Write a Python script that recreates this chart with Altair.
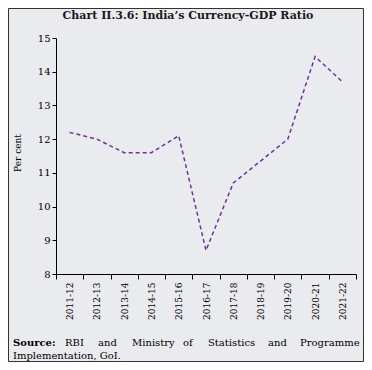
import json
import altair as alt
import pandas as pd

years = ["2011-12", "2012-13", "2013-14", "2014-15", "2015-16", "2016-17",
         "2017-18", "2018-19", "2019-20", "2020-21", "2021-22"]
ratio = [12.2, 12.0, 11.6, 11.6, 12.1, 8.7, 10.7, 11.35, 12.0, 14.45, 13.7]
y_ticks = [8, 9, 10, 11, 12, 13, 14, 15]

title_text = "Chart II.3.6: India\u2019s Currency-GDP Ratio"
y_title = "Per cent"

FONT = "DejaVu Serif"
n = len(years)
df = pd.DataFrame({"idx": list(range(n)), "year": years, "ratio": ratio})

tick_vals = [i - 0.5 for i in range(n + 1)]
label_expr = "(datum.value + 0.5) < %d ? %s[round(datum.value + 0.5)] : ''" % (n, json.dumps(years).replace('"', "'"))

W, H = 300, 236
band = W / n

line = alt.Chart(df).mark_line(color="#7030A0", strokeDash=[4, 3], strokeWidth=1.5).encode(
    x=alt.X("idx:Q", scale=alt.Scale(domain=[-0.5, n - 0.5], nice=False, zero=False),
            axis=alt.Axis(values=tick_vals, labelExpr=label_expr, labelAngle=270,
                          labelAlign="right", labelBaseline="middle",
                          labelOffset=band / 2, title=None, grid=False, tickSize=5,
                          labelPadding=3, domainColor="black", tickColor="black",
                          labelColor="black", labelFont=FONT, labelFontSize=9)),
    y=alt.Y("ratio:Q", scale=alt.Scale(domain=[8, 15], nice=False, zero=False),
            axis=alt.Axis(values=y_ticks, title=None, grid=False, tickSize=4,
                          labelPadding=2, domainColor="black", tickColor="black",
                          labelColor="black", labelFont=FONT, labelFontSize=10)),
)

one = pd.DataFrame({"a": [0]})
base = alt.Chart(one)

layers = [line]
layers.append(base.mark_text(font=FONT, fontSize=11, fontWeight="bold", color="#1a1a1a",
                             align="center", baseline="middle").encode(
    x=alt.value(132), y=alt.value(-22), text=alt.value(title_text)))
layers.append(base.mark_text(font=FONT, fontSize=9, color="black", angle=270,
                             align="center", baseline="middle").encode(
    x=alt.value(-38), y=alt.value(115), text=alt.value(y_title)))

words = [("Source:", -43, "bold"), ("RBI", 9, "normal"), ("and", 42, "normal"),
         ("Ministry", 76, "normal"), ("of", 127, "normal"), ("Statistics", 152, "normal"),
         ("and", 212, "normal"), ("Programme", 244, "normal")]
for w, xp, fw in words:
    layers.append(base.mark_text(font=FONT, fontSize=10, fontWeight=fw, color="black",
                                 align="left", baseline="middle").encode(
        x=alt.value(xp), y=alt.value(305), text=alt.value(w)))
layers.append(base.mark_text(font=FONT, fontSize=10, color="black",
                             align="left", baseline="middle").encode(
    x=alt.value(-43), y=alt.value(318), text=alt.value("Implementation, GoI.")))

layers.append(base.mark_rect(fill=None, stroke="#333333", strokeWidth=1).encode(
    x=alt.value(-47.5), x2=alt.value(307.5), y=alt.value(-29.5), y2=alt.value(323.5)))

chart = alt.layer(*layers).properties(
    width=W, height=H,
    padding={"left": 48, "top": 30, "right": 8, "bottom": 88},
    autosize=alt.AutoSizeParams(type="none"),
    background="#EAEBEF",
).configure_view(stroke=None)

chart.save("out.html", embed_options={"renderer": "svg", "actions": False})
